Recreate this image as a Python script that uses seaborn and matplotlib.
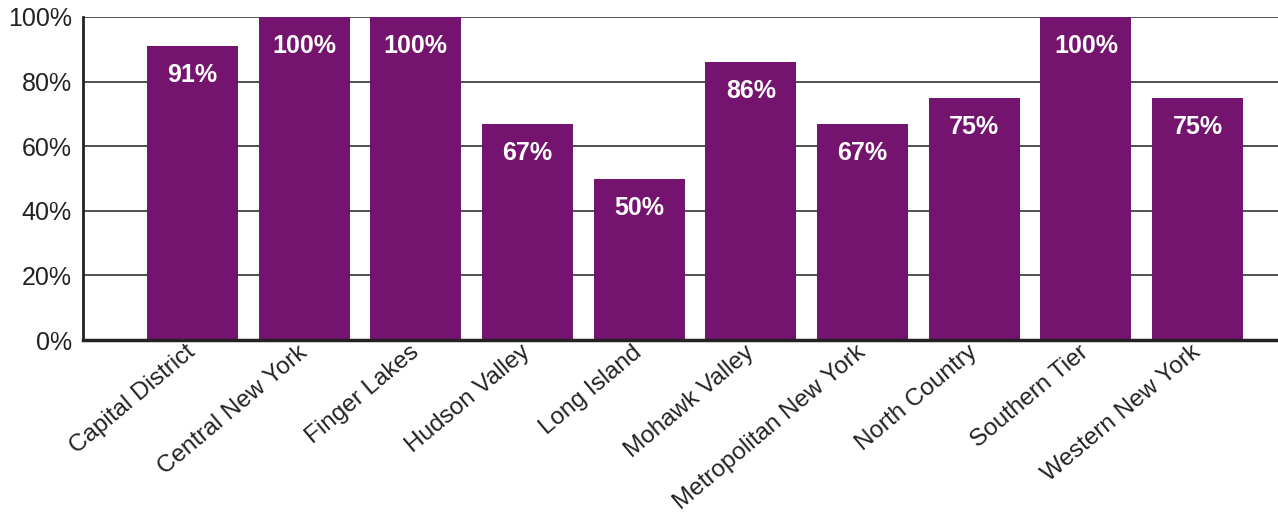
import numpy as np
import pandas as pd
import matplotlib
matplotlib.use("Agg")
import matplotlib.pyplot as plt
import seaborn as sns

regions = ["Capital District", "Central New York", "Finger Lakes", "Hudson Valley",
           "Long Island", "Mohawk Valley", "Metropolitan New York", "North Country",
           "Southern Tier", "Western New York"]
shares = [91, 100, 100, 67, 50, 86, 67, 75, 100, 75]
yticks = [0, 20, 40, 60, 80, 100]

df = pd.DataFrame({"region": regions, "share": shares})

sns.set_theme(style="white")
plt.rcParams["font.family"] = ["Liberation Sans", "DejaVu Sans"]

fig = plt.figure(figsize=(12.78, 5.16), dpi=100)
ax = fig.add_axes([83 / 1278, 1 - 340 / 516, 1 - 83 / 1278, (340 - 17) / 516])

sns.barplot(data=df, x="region", y="share", color="#74146F", saturation=1,
            width=0.815, linewidth=0, ax=ax, zorder=3)

ax.set_xlim(-0.98, 9.72)
ax.set_ylim(0, 100)
ax.set_yticks(yticks)
ax.set_yticklabels([f"{v}%" for v in yticks], fontsize=18, color="#222222")
ax.yaxis.grid(True, color="#333333", linewidth=1.2, zorder=0)
ax.set_axisbelow(True)
ax.tick_params(axis="both", length=0, pad=8)
ax.set_xlabel("")
ax.set_ylabel("")

for lbl in ax.get_xticklabels():
    lbl.set_rotation(40)
    lbl.set_ha("right")
    lbl.set_va("center")
    lbl.set_rotation_mode("anchor")
    lbl.set_fontsize(17.5)
    lbl.set_color("#222222")
ax.tick_params(axis="x", pad=7)

for side in ["top", "right"]:
    ax.spines[side].set_visible(False)
ax.spines["left"].set_color("#222222")
ax.spines["left"].set_linewidth(2)
ax.spines["bottom"].set_color("#222222")
ax.spines["bottom"].set_linewidth(2.5)
ax.spines["left"].set_zorder(4)
ax.spines["bottom"].set_zorder(4)

for i, v in enumerate(shares):
    ax.annotate(f"{v}%", (i, v), xytext=(0, -21), textcoords="offset points",
                ha="center", va="center", color="white", fontsize=18,
                fontweight="bold", zorder=5)

fig.savefig("out.png", dpi=100)
